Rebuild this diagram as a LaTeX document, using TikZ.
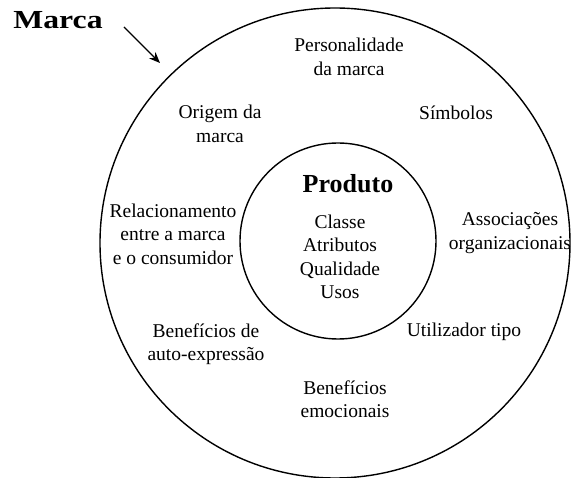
\documentclass[tikz,border=0pt]{standalone}
\usepackage{fontspec}
\setmainfont{Liberation Serif}
\usetikzlibrary{arrows.meta,positioning}

\begin{document}
\begin{tikzpicture}[
    x=1pt, y=-1pt,
    >=Stealth,
    every node/.style={font=\fontsize{19.5}{23.5}\selectfont},
    ring/.style={draw, circle, line width=1.4pt, inner sep=0pt, minimum size=#1},
    lbl/.style={align=center, inner sep=0pt},
    title/.style={font=\fontsize{26}{30}\selectfont\bfseries, inner sep=0pt},
    arr/.style={->, line width=1.3pt, >={Stealth[length=11pt, width=9pt]}},
  ]
    \useasboundingbox (0,0) rectangle (576,478);

    % --- Circles ---
    \node[ring=470] (marcaring)   at (335,243) {};
    \node[ring=196] (produtoring) at (338,241) {};

    % --- Brand label and arrow ---
    \node[title] (marca) at (58,20) {\scalebox{1.22}[1]{Marca}};
    \coordinate (tail) at (124,27);
    \coordinate (tip)  at (160,63);
    \draw[arr] (tail) -- (tip);

    % --- Product core ---
    \node[title] (produto) at (348,184) {Produto};
    \node[lbl, below=21pt of produto.south, xshift=-8pt] (atrib)
         {Classe\\Atributos\\Qualidade\\Usos};

    % --- Brand associations ---
    \node[lbl] (person)  at (349,57)  {Personalidade\\da marca};
    \node[lbl] (simb)    at (456,113) {Símbolos};
    \node[lbl] (origem)  at (220,124) {Origem da\\marca};
    \node[lbl] (relac)   at (173,234) {Relacionamento\\entre a marca\\e o consumidor};
    \node[lbl] (assoc)   at (510,233) {Associações\\organizacionais};
    \node[lbl] (autoexp) at (206,344) {Benefícios de\\auto-expressão};
    \node[lbl] (utiliz)  at (464,332) {Utilizador tipo};
    \node[lbl] (emoc)    at (345,399) {Benefícios\\emocionais};
  \end{tikzpicture}
\end{document}
